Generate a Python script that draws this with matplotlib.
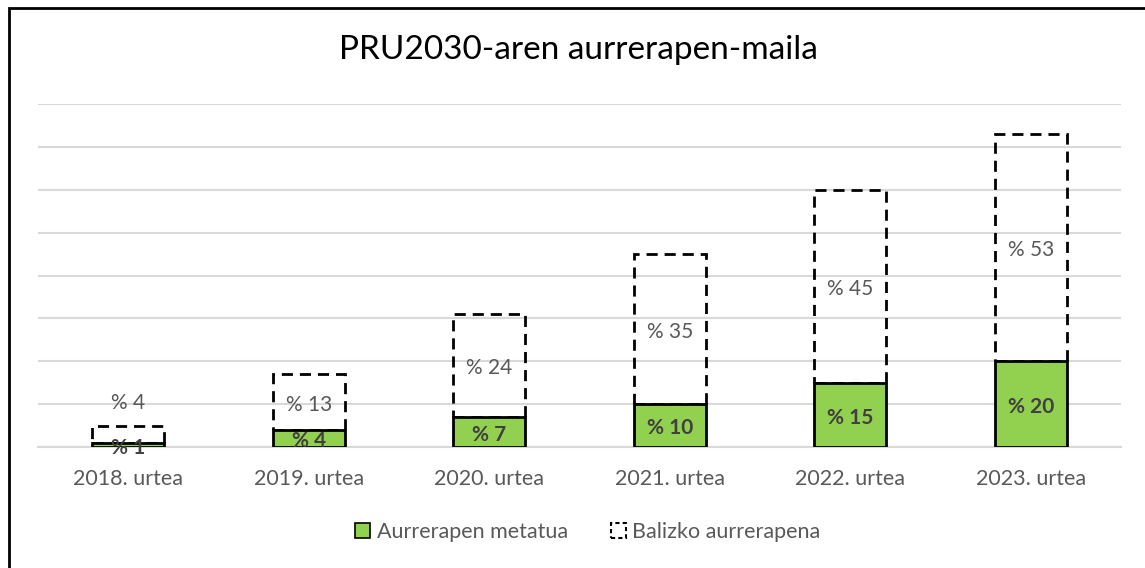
import numpy as np
import matplotlib
matplotlib.use("Agg")
import matplotlib.pyplot as plt
from matplotlib.patches import Rectangle, Patch

plt.rcParams['font.family'] = ['Lato', 'DejaVu Sans']

urteak = ['2018. urtea', '2019. urtea', '2020. urtea', '2021. urtea', '2022. urtea', '2023. urtea']
metatua = [1, 4, 7, 10, 15, 20]
balizkoa = [4, 13, 24, 35, 45, 53]

berdea = '#92D050'
grisa = '#595959'

fig = plt.figure(figsize=(11.45, 5.68), dpi=100)
ax = fig.add_axes([38 / 1145, 1 - 447 / 568, (1121 - 38) / 1145, (447 - 104) / 568])

x = np.arange(len(urteak))
w = 0.40

# dashed "potential" bars stacked on top of the achieved ones
b2 = ax.bar(x, balizkoa, w, bottom=metatua, facecolor='none', edgecolor='black',
            linewidth=2, linestyle=(0, (4, 2.5)), zorder=3)
b1 = ax.bar(x, metatua, w, color=berdea, edgecolor='black', linewidth=2, zorder=4)

for i in range(len(x)):
    # achieved label, centred in green segment
    ax.annotate(f'% {metatua[i]}', (x[i], metatua[i] / 2), xytext=(0, -2),
                textcoords='offset points', ha='center', va='center',
                fontsize=15, fontweight='bold', color='#404040', zorder=5)
    # potential label, centred in dashed segment (above if too small)
    if balizkoa[i] < 8:
        ypos = metatua[i] + balizkoa[i] + 6
    else:
        ypos = metatua[i] + balizkoa[i] / 2
    ax.annotate(f'% {balizkoa[i]}', (x[i], ypos), xytext=(0, -2),
                textcoords='offset points', ha='center', va='center',
                fontsize=15, color=grisa, zorder=5)

ax.set_xlim(-0.5, len(x) - 0.5)
ax.set_ylim(0, 80)
ax.set_yticks(np.arange(0, 81, 10))
ax.yaxis.grid(True, color='#d9d9d9', linewidth=1.5)
ax.set_axisbelow(True)
ax.tick_params(axis='y', left=False, labelleft=False)
ax.tick_params(axis='x', bottom=False, labelsize=15.5, labelcolor=grisa, pad=12)
ax.set_xticks(x)
ax.set_xticklabels(urteak)
for s in ['top', 'right', 'left']:
    ax.spines[s].set_visible(False)
ax.spines['bottom'].set_color('#d9d9d9')
ax.spines['bottom'].set_linewidth(1.5)

fig.text(578 / 1145, 1 - 50 / 568, 'PRU2030-aren aurrerapen-maila', ha='center', va='center',
         fontsize=24, color='black')

handles = [Patch(facecolor=berdea, edgecolor='black', linewidth=1.2),
           Patch(facecolor='none', edgecolor='black', linewidth=1.5, linestyle=(0, (2, 1.5)))]
leg = fig.legend(handles, ['Aurrerapen metatua', 'Balizko aurrerapena'], loc='center',
                 bbox_to_anchor=(588 / 1145, 1 - 532 / 568), ncol=2, frameon=False,
                 fontsize=15.5, handlelength=0.7, handleheight=0.7, handletextpad=0.3,
                 columnspacing=2.0)
for t in leg.get_texts():
    t.set_color(grisa)

# outer chart border (right and bottom edges cut off in the original)
fig.patches.append(Rectangle((9 / 1145, -0.1), 1.2, 1 - 8 / 568 + 0.1, transform=fig.transFigure,
                             fill=False, edgecolor='black', linewidth=2))

fig.savefig('out.png', dpi=100)
